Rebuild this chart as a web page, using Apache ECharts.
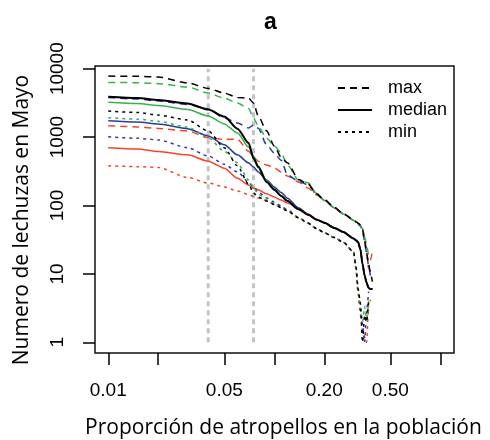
<!DOCTYPE html>
<html><head><meta charset="utf-8">
<script src="https://cdn.jsdelivr.net/npm/echarts@6/dist/echarts.min.js"></script>
<style>html,body{margin:0;padding:0;background:#fff}#c{width:490px;height:440px}</style>
</head><body><div id="c"></div>
<script>
const xValues = [0.01, 0.015, 0.02, 0.03, 0.04, 0.05, 0.06, 0.07, 0.075, 0.08, 0.09, 0.1, 0.11, 0.12, 0.14, 0.16, 0.18, 0.2, 0.23, 0.26, 0.3, 0.31, 0.32, 0.33, 0.34, 0.35, 0.36, 0.37, 0.38, 0.39];

const blackMax = [7800, 7750, 7550, 6200, 5150, 4400, 3800, 3700, 3150, 2040, 1230, 740, 510, 420, 240, 205, 148, 122, 94, 76, 62, 58, 55, 52, 44, 30, 20, 14, 10, 7.7];
const greenMax = [6300, 6250, 6050, 5400, 4400, 3720, 3150, 2620, 1900, 1450, 960, 740, 590, 390, 235, 215, 150, 118, 92, 75, 61, 58, 54, 52, 46, 35, 26, 18, null, null];
const blueMax  = [3780, 3600, 3380, 3000, 2570, 1900, 1610, 1360, 1500, 1350, 770, 585, 460, 280, 225, 200, 145, 120, 93, 76, 61, 57, 54, 50, 43, 30, 20, 13, 9, null];
const redMax   = [1470, 1410, 1340, 1230, 980, 930, 930, 620, 510, 445, 390, 355, 310, 270, 220, 180, 142, 122, 93, 75, 62, 58, 55, 52, 47, 35, 20, 12, 16, 22];

const blackMed = [3900, 3730, 3480, 3100, 2530, 2000, 1330, 820, 490, 365, 220, 170, 138, 116, 88, 73, 62, 56, 47, 41, 33, 31, 29, 23, 14, 9.5, 7.4, 6.2, 6.0, 6.0];
const greenMed = [3230, 3100, 2890, 2530, 2040, 1560, 1150, 715, 530, 380, 230, 175, 140, 117, 88, 73, 62, 56, 47, 41, 33, 31, 29, 23, 14, 9.5, 7.4, 6.2, 6.0, 6.0];
const blueMed  = [1740, 1660, 1550, 1330, 1040, 770, 550, 420, 365, 310, 235, 187, 155, 128, 92, 74, 62, 56, 47, 41, 33, 31, 29, 23, 14, 9.5, 7.4, 6.2, 6.0, 6.0];
const redMed   = [700, 670, 615, 550, 445, 350, 250, 200, 180, 170, 148, 133, 120, 109, 92, 75, 63, 56, 47, 41, 33, 31, 29, 23, 14, 9.5, 7.4, 6.2, 6.0, 6.0];

const blackMin = [2400, 2290, 2100, 1780, 1230, 700, 380, 205, 152, 133, 116, 103, 93, 83, 66, 55, 46, 40, 34, 29, 21, 13, 6, 3.8, 1.0, 2.5, 2.0, 4.0, null, null];
const greenMin = [1920, 1830, 1700, 1400, 980, 620, 420, 236, 180, 148, 120, 105, 93, 83, 66, 55, 46, 40, 34, 29, 21, 13, 6, 3.5, 2.0, 3.3, 2.2, 4.0, null, null];
const blueMin  = [1010, 960, 910, 700, 530, 400, 310, 220, 187, 158, 129, 112, 98, 86, 66, 55, 46, 40, 34, 29, 21, 12.5, 5.5, 3.0, 1.8, 1.0, 3.0, 5.5, null, null];
const redMin   = [380, 370, 360, 257, 213, 187, 163, 145, 135, 129, 116, 105, 95, 86, 67, 55, 46, 40, 34, 29, 21, 12, 5, 2.5, 1.5, 1.2, 1.0, 3.5, 4.2, null];

const refLines = [0.04, 0.075];
const refSpan = [1, 10000];
const xTicks = [0.01, 0.02, 0.05, 0.1, 0.2, 0.5, 1];
const xTickLabels = [0.01, 0.05, 0.2, 0.5];
const yTicks = [1, 10, 100, 1000, 10000];
const legendNames = ['max', 'median', 'min'];

const COLORS = {black: '#000000', blue: '#2d3a9e', green: '#36b449', red: '#f2462a'};
const DASH = {max: [7, 5], median: 'solid', min: [3, 4]};

function pts(ys) {
  const out = [];
  ys.forEach((y, i) => { if (y != null) out.push([xValues[i], y]); });
  return out;
}
function mk(name, ys, color, kind, w) {
  return {
    name: name, type: 'line', data: pts(ys), symbol: 'none',
    smooth: 0.25, smoothMonotone: 'x',
    lineStyle: {color: color, width: w || 1.5, type: DASH[kind]},
    itemStyle: {color: color}, z: 3, silent: true
  };
}

const series = [
  mk('red max', redMax, COLORS.red, 'max'),
  mk('red median', redMed, COLORS.red, 'median'),
  mk('red min', redMin, COLORS.red, 'min'),
  mk('blue max', blueMax, COLORS.blue, 'max'),
  mk('blue median', blueMed, COLORS.blue, 'median'),
  mk('blue min', blueMin, COLORS.blue, 'min'),
  mk('green max', greenMax, COLORS.green, 'max'),
  mk('green median', greenMed, COLORS.green, 'median'),
  mk('green min', greenMin, COLORS.green, 'min'),
  mk('max', blackMax, COLORS.black, 'max'),
  mk('median', blackMed, COLORS.black, 'median', 2),
  mk('min', blackMin, COLORS.black, 'min')
];
refLines.forEach((x, i) => {
  series.unshift({
    name: 'ref' + i, type: 'line', symbol: 'none', silent: true, z: 2,
    data: [[x, refSpan[0]], [x, refSpan[1]]],
    lineStyle: {color: '#c4c4c4', width: 3, type: [5, 4]}
  });
});

const chart = echarts.init(document.getElementById('c'), null, {renderer: 'canvas'});
chart.setOption({
  animation: false,
  backgroundColor: '#fff',
  title: {text: 'a', left: 264, top: 11, padding: 0,
    textStyle: {fontFamily: 'Liberation Sans', fontWeight: 'bold', fontSize: 23, color: '#000'}},
  legend: {
    data: legendNames, orient: 'vertical', left: 337, top: 77, padding: 0,
    itemWidth: 34, itemHeight: 14, itemGap: 0, selectedMode: false,
    itemStyle: {opacity: 0},
    textStyle: {fontFamily: 'Liberation Sans', fontSize: 18, color: '#000', lineHeight: 22, padding: [0, 0, 0, 11]}
  },
  grid: {left: 95, top: 66, width: 359, height: 287, show: true, borderColor: '#111', borderWidth: 1.5, backgroundColor: 'transparent', containLabel: false},
  xAxis: {
    type: 'log', logBase: 10, min: 0.00832, max: 1.209,
    axisLine: {show: false},
    axisTick: {show: true, customValues: xTicks, length: 12, inside: false, lineStyle: {color: '#000', width: 1.5}},
    axisLabel: {customValues: xTickLabels, formatter: v => Number(v).toFixed(2), fontFamily: 'Liberation Sans', fontSize: 19, color: '#000', margin: 28},
    splitLine: {show: false}, minorTick: {show: false}
  },
  yAxis: {
    type: 'log', logBase: 10, min: 0.697, max: 10954,
    axisLine: {show: false},
    axisTick: {show: true, customValues: yTicks, length: 12, inside: false, lineStyle: {color: '#000', width: 1.5}},
    axisLabel: {customValues: yTicks, rotate: 90, formatter: v => String(Math.round(v)), fontFamily: 'Liberation Sans', fontSize: 19, color: '#000', margin: 28},
    splitLine: {show: false}, minorTick: {show: false}
  },
  graphic: [
    {type: 'text', x: 283.5, y: 428, silent: true,
      style: {text: 'Proporción de atropellos en la población', fontFamily: 'Open Sans', fontSize: 21, fill: '#000', align: 'center', verticalAlign: 'middle'}},
    {type: 'text', x: 22, y: 220, rotation: Math.PI / 2, silent: true,
      style: {text: 'Numero de lechuzas en Mayo', fontFamily: 'Open Sans', fontSize: 21, fill: '#000', align: 'center', verticalAlign: 'middle'}}
  ],
  series: series
});
</script>
</body></html>
